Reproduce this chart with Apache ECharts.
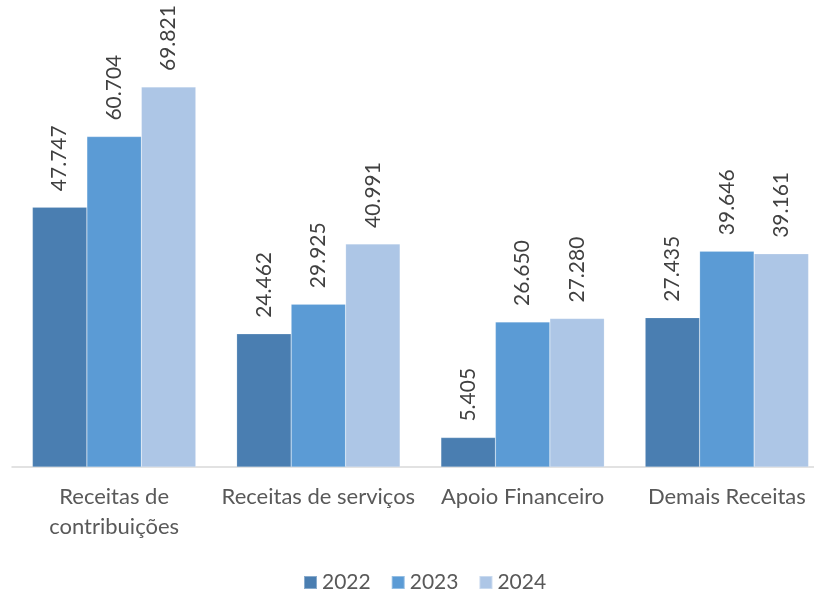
<!DOCTYPE html>
<html>
<head>
<meta charset="utf-8">
<script src="https://cdn.jsdelivr.net/npm/echarts@6/dist/echarts.min.js"></script>
<style>
  html, body { margin: 0; padding: 0; background: #fff; }
  #main { width: 814px; height: 590px; }
</style>
</head>
<body>
<div id="main"></div>
<script>
var categories = ['Receitas de\ncontribuições', 'Receitas de serviços', 'Apoio Financeiro', 'Demais Receitas'];
var years = ['2022', '2023', '2024'];
var values2022 = [47.747, 24.462, 5.405, 27.435];
var values2023 = [60.704, 29.925, 26.650, 39.646];
var values2024 = [69.821, 40.991, 27.280, 39.161];
var colors = ['#4a7eb1', '#5b9bd5', '#adc6e6'];

var myChart = echarts.init(document.getElementById('main'));

function fmt(p) {
    return p.value.toFixed(3);
}

function makeSeries(name, data, color) {
    return {
        name: name,
        type: 'bar',
        data: data,
        barGap: '0%',
        barCategoryGap: '20%',
        itemStyle: { color: color, borderColor: 'rgba(255,255,255,0.35)', borderWidth: 0.5 },
        label: {
            show: true,
            position: 'top',
            rotate: 90,
            align: 'left',
            verticalAlign: 'middle',
            distance: 16,
            formatter: fmt,
            color: '#404040',
            fontSize: 21,
            fontFamily: 'Lato'
        }
    };
}

var option = {
    animation: false,
    color: colors,
    legend: {
        top: 567,
        left: 298,
        itemWidth: 13,
        itemHeight: 13,
        itemGap: 20,
        icon: 'rect',
        textStyle: { color: '#595959', fontSize: 21, fontFamily: 'Lato' },
        data: years
    },
    grid: {
        left: 12,
        width: 817,
        top: 31.6,
        height: 435.4,
        containLabel: false,
        outerBoundsMode: 'none'
    },
    xAxis: {
        type: 'category',
        data: categories,
        axisLine: { lineStyle: { color: '#d9d9d9', width: 1.5 } },
        axisTick: { show: false },
        axisLabel: {
            color: '#595959',
            fontSize: 22,
            fontFamily: 'Lato',
            margin: 15,
            lineHeight: 30,
            interval: 0
        }
    },
    yAxis: {
        type: 'value',
        min: 0,
        max: 80,
        show: false,
        splitLine: { show: false }
    },
    series: [
        makeSeries(years[0], values2022, colors[0]),
        makeSeries(years[1], values2023, colors[1]),
        makeSeries(years[2], values2024, colors[2])
    ]
};

myChart.setOption(option);
</script>
</body>
</html>
